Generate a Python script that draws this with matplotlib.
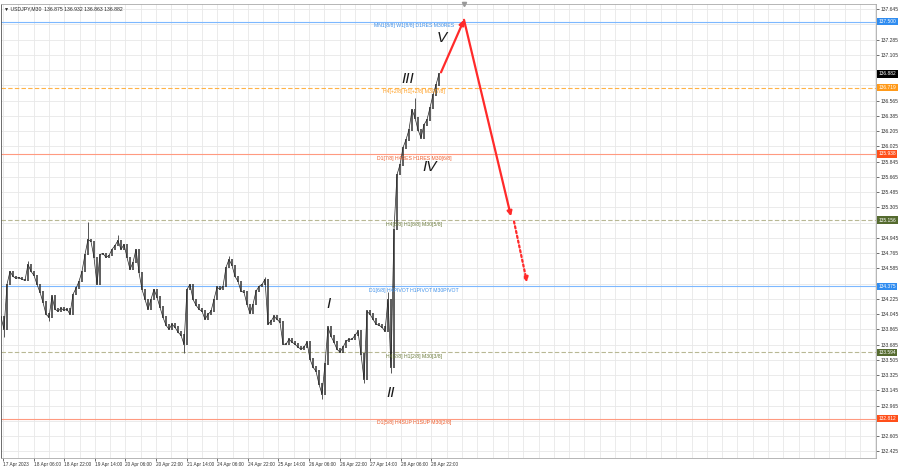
import matplotlib.pyplot as plt
import numpy as np

plt.rcParams['font.family'] = ['Liberation Sans', 'DejaVu Sans']

# closes, one every 3 M30 bars
closes = [134.008, 133.867, 134.397, 134.550, 134.491, 134.468, 134.479, 134.456, 134.444, 134.633,
          134.550, 134.503, 134.397, 134.303, 134.185, 134.044, 134.008, 134.256, 134.103, 134.079,
          134.114, 134.091, 134.103, 134.044, 134.279, 134.350, 134.432, 134.550, 134.750, 134.927,
          134.903, 134.715, 134.397, 134.750, 134.762, 134.715, 134.739, 134.809, 134.856, 134.915,
          134.809, 134.868, 134.715, 134.574, 134.656, 134.809, 134.538, 134.338, 134.220, 134.103,
          134.220, 134.338, 134.244, 134.126, 134.008, 133.914, 133.867, 133.926, 133.890, 133.832,
          133.796, 133.690, 134.338, 134.397, 134.220, 134.150, 134.103, 134.079, 133.985, 134.044,
          134.079, 134.220, 134.362, 134.338, 134.373, 134.597, 134.691, 134.621, 134.491, 134.432,
          134.315, 134.303, 134.161, 134.055, 134.161, 134.315, 134.373, 134.397, 134.456, 133.926,
          133.961, 134.020, 133.985, 133.949, 133.690, 133.690, 133.749, 133.714, 133.690, 133.655,
          133.631, 133.655, 133.714, 133.514, 133.419, 133.372, 133.219, 133.101, 133.455, 133.890,
          133.784, 133.714, 133.631, 133.596, 133.655, 133.726, 133.749, 133.749, 133.796, 133.843,
          133.572, 133.278, 134.079, 134.044, 133.985, 133.926, 133.914, 133.890, 133.843, 134.220,
          133.419, 135.045, 135.693, 135.810, 136.011, 136.105, 136.223, 136.458, 136.364, 136.223,
          136.128, 136.282, 136.341, 136.482, 136.635, 136.753, 136.882]

# wicks that stick out
spike_col = [1, 9, 16, 29, 39, 61, 76, 88, 107, 121, 129, 130, 138]
spike_p = [133.773, 134.668, 133.961, 135.139, 134.974, 133.584, 134.727, 134.479, 133.043, 133.231, 134.303, 133.349, 136.600]

x_labels = ["17 Apr 2023", "18 Apr 06:00", "18 Apr 22:00", "19 Apr 14:00", "20 Apr 06:00",
            "20 Apr 22:00", "21 Apr 14:00", "24 Apr 06:00", "24 Apr 22:00", "25 Apr 14:00",
            "26 Apr 06:00", "26 Apr 22:00", "27 Apr 14:00", "28 Apr 06:00", "28 Apr 22:00"]

# murrey levels
lvl_p = [137.500, 136.719, 135.938, 135.156, 134.375, 133.594, 132.812]
lvl_txt = ["MN1[8/8] W1[8/8] D1RES M30RES", "H4[+2/8] H1[+2/8] M30[7/8]",
           "D1[7/8] H4RES H1RES M30[6/8]", "H4[8/8] H1[8/8] M30[5/8]",
           "D1[6/8] H4PIVOT H1PIVOT M30PIVOT", "H4[2/8] H1[2/8] M30[3/8]",
           "D1[5/8] H4SUP H1SUP M30[2/8]"]
lvl_line = ["#7db8ff", "#ffb347", "#ff9a80", "#b8b894", "#7db8ff", "#b8b894", "#ff9a80"]
lvl_txtc = ["#3d8fe8", "#ff9c1a", "#f05a28", "#6b7a3a", "#3d8fe8", "#6b7a3a", "#f05a28"]
lvl_box = ["#2f8cf0", "#ff9a1a", "#ff4f1a", "#556b2f", "#2f8cf0", "#556b2f", "#ff4f1a"]
lvl_ls = ["-", "--", "-", "--", "-", "--", "-"]
last_price = 136.882

# wave marks
wave_txt = ["I", "II", "III", "IV", "V"]
wave_x = [328, 390, 407, 429, 441]
wave_p = [134.16, 133.12, 136.82, 135.78, 137.31]

# projection
proj_x = [440, 463, 510]
proj_p = [136.90, 137.52, 135.20]
dot_x = [513, 526]
dot_p = [135.14, 134.42]

fig = plt.figure(figsize=(9, 4.68), dpi=100)
ax = fig.add_axes([1/900, 10/468, 875/900, 454/468])
ax.set_xlim(0, 875)
ax.set_ylim(132.347, 137.707)

# grid + ticks
yt = 137.645 - 0.18*np.arange(30)
boxes = lvl_p + [last_price]
ylab = ["" if min(abs(v - b) for b in boxes) < 0.05 else "%.3f" % v for v in yt]
xt = np.arange(15)*30.6 + 2
ax.set_yticks(yt)
ax.set_yticklabels(ylab)
ax.set_xticks(xt)
ax.set_xticklabels(x_labels, ha="left")
ax.set_xticks(np.arange(58)*15.3 + 2, minor=True)
ax.grid(True, which="both", color="#e8e8e8", lw=0.6)
ax.set_axisbelow(True)
ax.yaxis.tick_right()
ax.tick_params(axis="y", labelsize=3.6, length=2, pad=1.5, colors="#333", width=0.5)
ax.tick_params(axis="x", labelsize=3.4, length=2, pad=1.0, colors="#333", width=0.5)
ax.tick_params(axis="x", which="minor", length=0)
for s in ax.spines.values():
    s.set_color("#aaa")
    s.set_linewidth(0.6)
ax.spines["left"].set_color("#555")

# levels
for p, t, lc, tc, bc, ls in zip(lvl_p, lvl_txt, lvl_line, lvl_txtc, lvl_box, lvl_ls):
    if ls == "--":
        ax.axhline(p, color=lc, lw=0.8, ls=(0, (4, 2)), zorder=1)
    else:
        ax.axhline(p, color=lc, lw=0.8, zorder=1)
    ax.text(413, p - 0.02, t, color=tc, fontsize=3.7, ha="center", va="top", zorder=4)
    ax.text(1.003, p, "%.3f" % p, transform=ax.get_yaxis_transform(), color="white", fontsize=3.5,
            va="center", ha="left", zorder=6, clip_on=False,
            bbox=dict(boxstyle="square,pad=0.25", fc=bc, ec="none"))
ax.text(1.003, last_price, "%.3f" % last_price, transform=ax.get_yaxis_transform(), color="white",
        fontsize=3.5, va="center", ha="left", zorder=6, clip_on=False,
        bbox=dict(boxstyle="square,pad=0.25", fc="black", ec="none"))

# bars
xs = np.arange(len(closes))*3
opens = [closes[0]] + closes[:-1]
lo = np.minimum(opens, closes)
hi = np.maximum(opens, closes)
ax.vlines(xs, lo - 0.01, hi + 0.01, color="#333", lw=1.1, zorder=3)
ax.plot(xs, closes, color="#222", lw=0.5, zorder=3)
for c, p in zip(spike_col, spike_p):
    ax.vlines(xs[c], min(p, closes[c]), max(p, closes[c]), color="#555", lw=0.7, zorder=3)

# wave labels
for t, x, p in zip(wave_txt, wave_x, wave_p):
    ax.text(x, p, t, fontsize=11, style="italic", color="#1a1a1a", ha="center", va="center", zorder=5)

# projection arrows
red = "#ff2a2a"
ax.annotate("", xy=(proj_x[1], proj_p[1]), xytext=(proj_x[0], proj_p[0]),
            arrowprops=dict(arrowstyle="-|>", color=red, lw=1.6, mutation_scale=7, shrinkA=0, shrinkB=0), zorder=5)
ax.annotate("", xy=(proj_x[2], proj_p[2]), xytext=(proj_x[1], proj_p[1]),
            arrowprops=dict(arrowstyle="-|>", color=red, lw=1.6, mutation_scale=7, shrinkA=0, shrinkB=0), zorder=5)
ax.annotate("", xy=(dot_x[1], dot_p[1]), xytext=(dot_x[0], dot_p[0]),
            arrowprops=dict(arrowstyle="-|>", color=red, lw=1.6, ls=(0, (1, 1.2)), mutation_scale=7,
                            shrinkA=0, shrinkB=0), zorder=5)
# small marker above the chart at the projection top
ax.plot([proj_x[1]], [1.0], marker="v", ms=3, color="#999", transform=ax.get_xaxis_transform(),
        clip_on=False, zorder=6)

# header
ax.text(0.003, 0.995, "\u25bc USDJPY,M30  136.875 136.932 136.863 136.882", transform=ax.transAxes,
        fontsize=3.7, color="#222", ha="left", va="top", zorder=6)

fig.savefig("out.png", dpi=100)
